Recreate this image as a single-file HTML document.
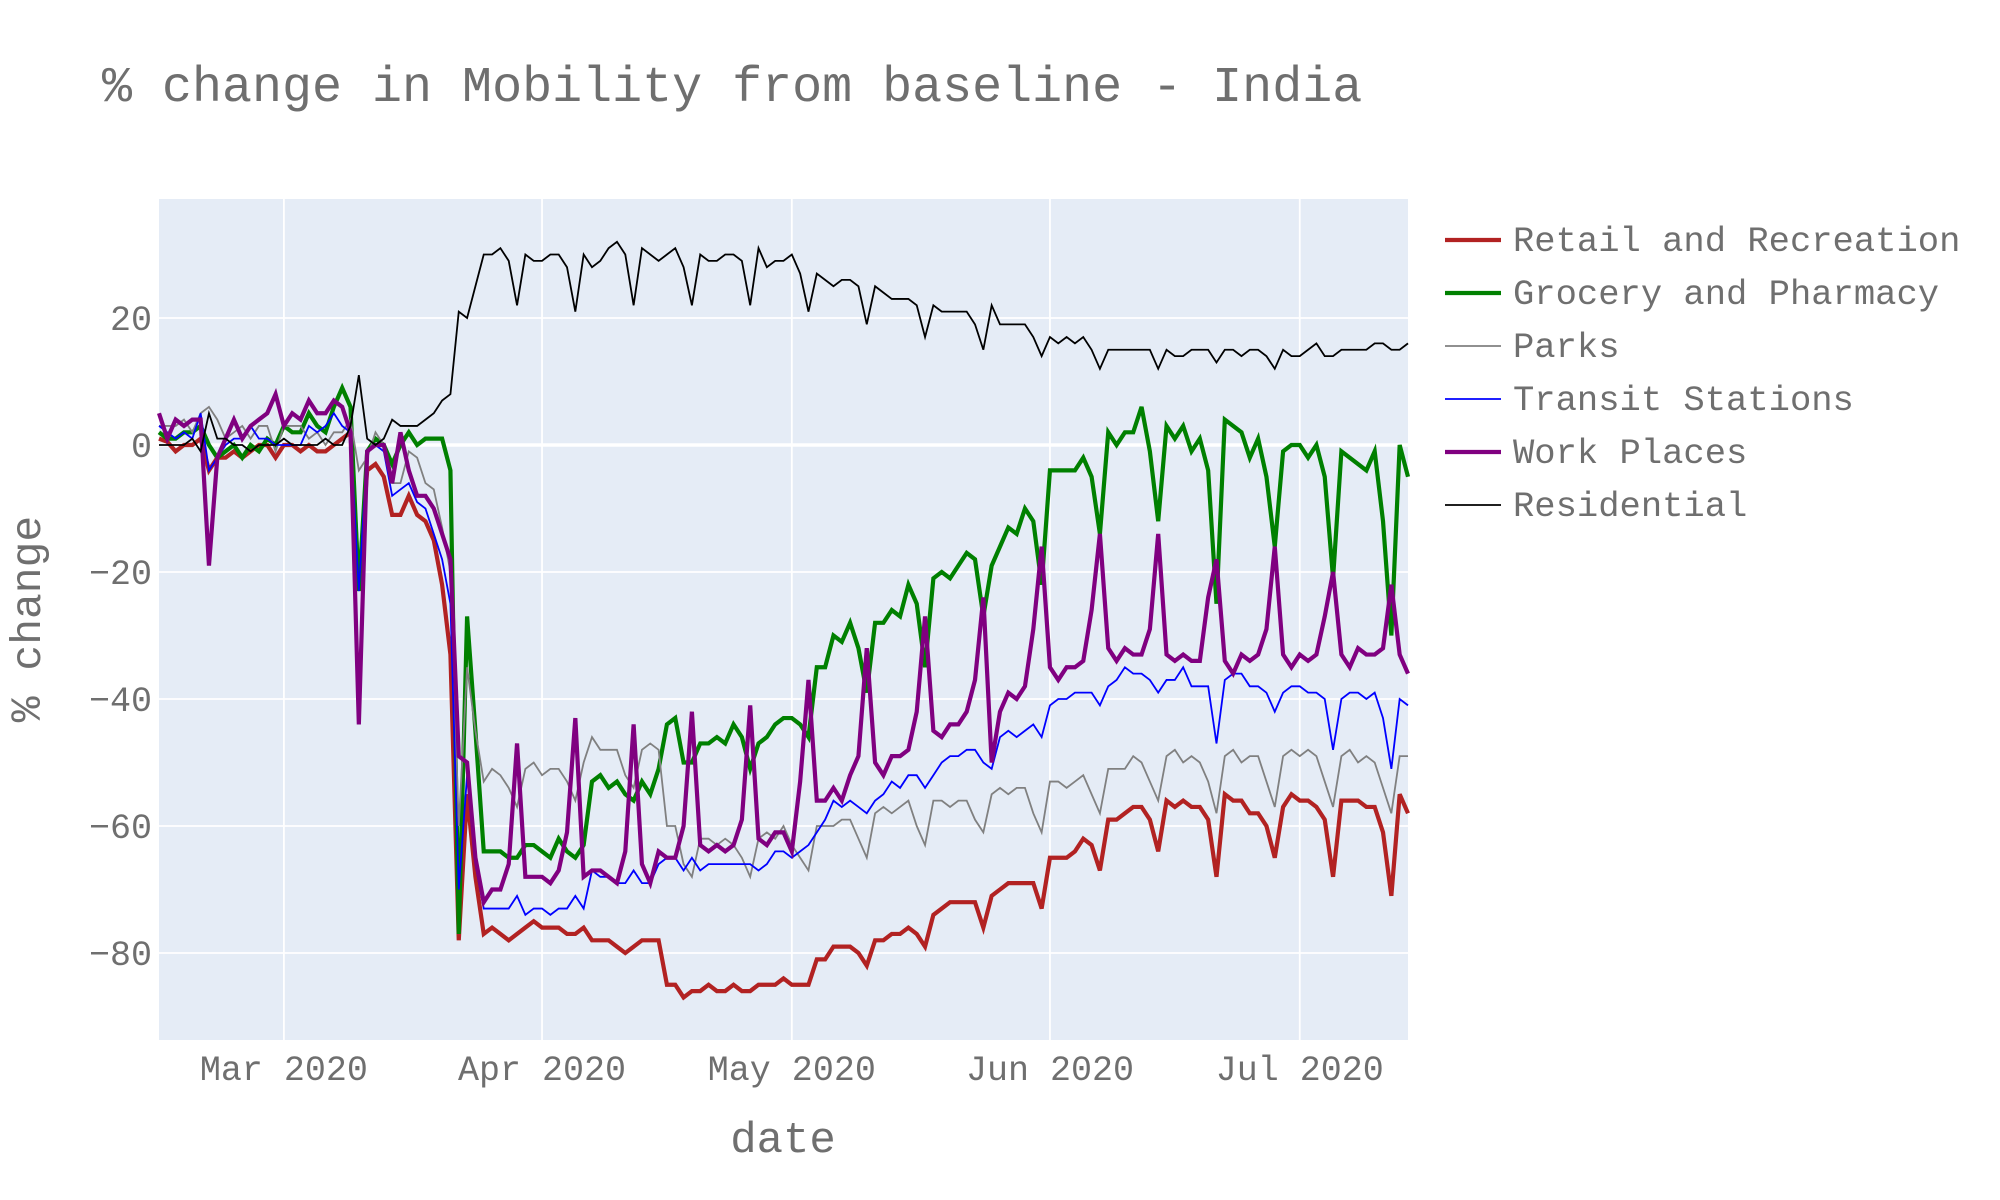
<!DOCTYPE html>
<html><head><meta charset="utf-8"><style>
html,body{margin:0;padding:0;background:#fff;}
svg{display:block;font-family:"Liberation Mono",monospace;}
</style></head><body>
<svg id="chart" width="2000" height="1200" viewBox="0 0 2000 1200" xmlns="http://www.w3.org/2000/svg">
<text x="102" y="101" font-size="50" fill="#6f6f6f">% change in Mobility from baseline - India</text>
<rect x="159" y="199" width="1249" height="841" fill="#E5ECF6"/>
<g id="grid"></g>
<g id="series"></g>
<g id="xticks"></g>
<g id="yticks"></g>
<text x="783" y="1152" font-size="44" fill="#6f6f6f" text-anchor="middle">date</text>
<text transform="translate(40,619) rotate(-90)" font-size="43" fill="#6f6f6f" text-anchor="middle">% change</text>
<g id="legend"></g>
</svg>
<script>
const startDate = "2020-02-15";
const seriesNames = ["Retail and Recreation","Grocery and Pharmacy","Parks","Transit Stations","Work Places","Residential"];
const retail = [1,0.5,-1,0,0,1,-4,-2,-2,-1,-2,-1,0,0,-2,
0,0,-1,0,-1,-1,0,1,2,
-22,
-4,-3,-5,-11,-11,-8,-11,-12,-15,-22,-33,
-78,-55,-68,-77,-76,-77,-78,-77,-76,-75,-76,-76,-76,-77,-77,
-76,-78,-78,-78,-79,-80,-79,-78,-78,-78,
-85,-85,-87,-86,-86,-85,-86,-86,-85,-86,-86,-85,-85,-85,-84,-85,-85,-85,
-81,-81,-79,-79,-79,-80,-82,-78,-78,-77,-77,-76,-77,
-79,-74,-73,-72,-72,-72,-72,-76,-71,-70,-69,-69,-69,-69,-73,
-65,-65,-65,-64,-62,-63,-67,-59,-59,-58,-57,-57,-59,-64,
-56,-57,-56,-57,-57,-59,-68,-55,-56,-56,-58,-58,-60,-65,
-57,-55,-56,-56,-57,-59,-68,-56,-56,-56,-57,-57,-61,-71,-55,-58];
const grocery = [2,1,1,2,2,3,0,-2,-1,0,-2,0,-1,1,0,
3,2,2,5,3,2,6,9,6,
-23,
-1,1,0,-3,0,2,0,1,1,1,-4,
-77,-27,-45,-64,-64,-64,-65,-65,-63,-63,-64,-65,-62,-64,-65,
-63,-53,-52,-54,-53,-55,-56,-53,-55,-51,
-44,-43,-50,-50,-47,-47,-46,-47,-44,-46,-51,-47,-46,-44,-43,-43,-44,-46,
-35,-35,-30,-31,-28,-32,-39,-28,-28,-26,-27,-22,-25,
-35,-21,-20,-21,-19,-17,-18,-27,-19,-16,-13,-14,-10,-12,-22,
-4,-4,-4,-4,-2,-5,-14,2,0,2,2,6,-1,-12,
3,1,3,-1,1,-4,-25,4,3,2,-2,1,-5,-16,
-1,0,0,-2,0,-5,-21,-1,-2,-3,-4,-1,-12,-30,0,-5];
const parks = [3,3,3,4,2,5,6,4,1,2,3,1,3,3,-1,
3,3,3,1,2,0,2,2,4,
-4,
-2,2,0,-6,-6,-1,-2,-6,-7,-13,-20,
-60,-35,-45,-53,-51,-52,-54,-57,-51,-50,-52,-51,-51,-53,-56,
-50,-46,-48,-48,-48,-52,-54,-48,-47,-48,
-60,-60,-66,-68,-62,-62,-63,-62,-63,-65,-68,-62,-61,-62,-60,-63,-65,-67,
-60,-60,-60,-59,-59,-62,-65,-58,-57,-58,-57,-56,-60,
-63,-56,-56,-57,-56,-56,-59,-61,-55,-54,-55,-54,-54,-58,-61,
-53,-53,-54,-53,-52,-55,-58,-51,-51,-51,-49,-50,-53,-56,
-49,-48,-50,-49,-50,-53,-58,-49,-48,-50,-49,-49,-53,-57,
-49,-48,-49,-48,-49,-53,-57,-49,-48,-50,-49,-50,-54,-58,-49,-49];
const transit = [3,2,1,2,1,5,-4,-2,0,1,1,3,1,1,0,
0,0,0,3,2,3,5,3,2,
-23,
-1,0,-1,-8,-7,-6,-9,-10,-14,-18,-25,
-70,-52,-66,-73,-73,-73,-73,-71,-74,-73,-73,-74,-73,-73,-71,
-73,-67,-68,-68,-69,-69,-67,-69,-69,-66,
-65,-65,-67,-65,-67,-66,-66,-66,-66,-66,-66,-67,-66,-64,-64,-65,-64,-63,
-61,-59,-56,-57,-56,-57,-58,-56,-55,-53,-54,-52,-52,
-54,-52,-50,-49,-49,-48,-48,-50,-51,-46,-45,-46,-45,-44,-46,
-41,-40,-40,-39,-39,-39,-41,-38,-37,-35,-36,-36,-37,-39,
-37,-37,-35,-38,-38,-38,-47,-37,-36,-36,-38,-38,-39,-42,
-39,-38,-38,-39,-39,-40,-48,-40,-39,-39,-40,-39,-43,-51,-40,-41];
const work = [5,1,4,3,4,4,-19,-2,1,4,1,3,4,5,8,
3,5,4,7,5,5,7,6,2,
-44,
-1,0,0,-6,2,-4,-8,-8,-10,-14,-18,
-49,-50,-65,-72,-70,-70,-66,-47,-68,-68,-68,-69,-67,-61,-43,
-68,-67,-67,-68,-69,-64,-44,-66,-69,-64,
-65,-65,-60,-42,-63,-64,-63,-64,-63,-59,-41,-62,-63,-61,-61,-64,-53,-37,
-56,-56,-54,-56,-52,-49,-32,-50,-52,-49,-49,-48,-42,
-27,-45,-46,-44,-44,-42,-37,-24,-50,-42,-39,-40,-38,-29,-16,
-35,-37,-35,-35,-34,-26,-14,-32,-34,-32,-33,-33,-29,-14,
-33,-34,-33,-34,-34,-24,-18,-34,-36,-33,-34,-33,-29,-16,
-33,-35,-33,-34,-33,-27,-20,-33,-35,-32,-33,-33,-32,-22,-33,-36];
const residential = [0,0,0,0,1,-1,5,1,1,0,0,-1,0,0,0,
1,0,0,0,0,1,0,0,3,
11,
1,0,1,4,3,3,3,4,5,7,8,
21,20,25,30,30,31,29,22,30,29,29,30,30,28,21,
30,28,29,31,32,30,22,
31,30,29,30,31,28,22,
30,29,29,30,30,29,22,
31,28,29,29,30,27,21,
27,26,25,26,26,25,19,
25,24,23,23,23,22,17,
22,21,21,21,21,19,15,
22,19,19,19,19,17,14,
17,16,17,16,17,15,12,
15,15,15,15,15,15,12,
15,14,14,15,15,15,13,
15,15,14,15,15,14,12,
15,14,14,15,16,14,14,
15,15,15,15,16,16,15,
15,16];
const yTicks = [20,0,-20,-40,-60,-80];
const yTickLabels = ["20","0","\u221220","\u221240","\u221260","\u221280"];
const xTickDates = ["2020-03-01","2020-04-01","2020-05-01","2020-06-01","2020-07-01"];
const xTickLabels = ["Mar 2020","Apr 2020","May 2020","Jun 2020","Jul 2020"];

const NS = "http://www.w3.org/2000/svg";
const PL = 159, PR = 1408, PT = 199, PB = 1040;
const Y0 = 445, YU = 6.35;
const DAY = 86400000;
const t0 = Date.parse(startDate + "T00:00:00Z");
const tEnd = t0 + (retail.length - 1) * DAY;
function xDay(i){ return PL + (PR - PL) * (i * DAY) / (tEnd - t0); }
function xDate(s){ return PL + (PR - PL) * (Date.parse(s + "T00:00:00Z") - t0) / (tEnd - t0); }
function yVal(v){ return Y0 - v * YU; }
function mk(tag, attrs){ const e = document.createElementNS(NS, tag); for (const k in attrs) e.setAttribute(k, attrs[k]); return e; }

const grid = document.getElementById("grid");
const yt = document.getElementById("yticks");
yTicks.forEach((v, k) => {
  const y = yVal(v);
  const ln = mk("line", {x1: PL, x2: PR, y1: y, y2: y, stroke: "#fff", "stroke-width": v === 0 ? 3.5 : 1.8});
  
  
  grid.appendChild(ln);
  const t = mk("text", {x: 152, y: y + 12, "font-size": 35, fill: "#6f6f6f", "text-anchor": "end"});
  
  
  t.textContent = yTickLabels[k];
  yt.appendChild(t);
});
const xt = document.getElementById("xticks");
xTickDates.forEach((d, k) => {
  const x = xDate(d);
  const ln = mk("line", {x1: x, x2: x, y1: PT, y2: PB, stroke: "#fff", "stroke-width": 1.8});
  
  
  grid.appendChild(ln);
  const t = mk("text", {x: x, y: 1080, "font-size": 35, fill: "#6f6f6f", "text-anchor": "middle"});
  
  
  t.textContent = xTickLabels[k];
  xt.appendChild(t);
});

const allSeries = [retail, grocery, parks, transit, work, residential];
const colors = ["#B22222","#008000","#808080","#0000FF","#800080","#000000"];
const widths = [4.2,4.2,1.8,1.8,4.2,1.8];
const keys = ["retail-line","grocery-line","parks-line","transit-line","work-line","residential-line"];
const sg = document.getElementById("series");
allSeries.forEach((arr, s) => {
  const pts = arr.map((v, i) => xDay(i).toFixed(2) + "," + yVal(v).toFixed(2)).join(" ");
  const pl = mk("polyline", {points: pts, fill: "none", stroke: colors[s], "stroke-width": widths[s], "stroke-linejoin": "miter"});
  
  
  sg.appendChild(pl);
});

const lg = document.getElementById("legend");
seriesNames.forEach((n, s) => {
  const y = 240 + s * 53;
  const ln = mk("line", {x1: 1445, x2: 1501, y1: y, y2: y, stroke: colors[s], "stroke-width": widths[s]});
  
  
  lg.appendChild(ln);
  const t = mk("text", {x: 1513, y: y + 11, "font-size": 35.5, fill: "#6f6f6f"});
  
  
  t.textContent = n;
  lg.appendChild(t);
});
</script>
</body></html>
